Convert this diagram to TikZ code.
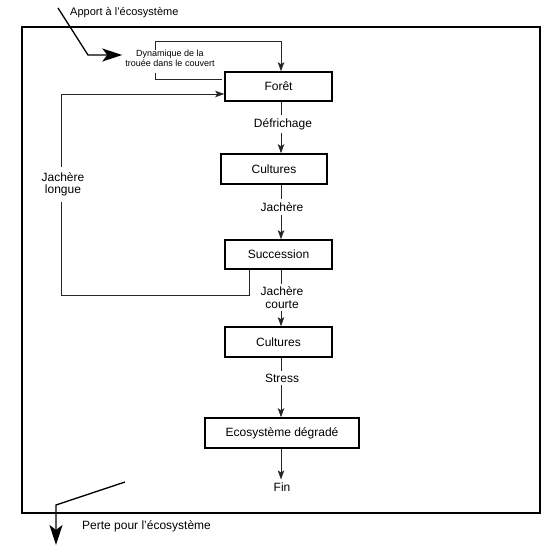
\documentclass[tikz,border=0pt]{standalone}
\usepackage{fontspec}
\setmainfont{Liberation Sans}
\usetikzlibrary{arrows.meta}
\begin{document}
\begin{tikzpicture}[x=1bp,y=-1bp,
  box/.style={draw, line width=1.6bp, minimum height=29bp, inner sep=0pt, font=\fontsize{12bp}{14bp}\selectfont},
  lbl/.style={font=\fontsize{12bp}{12.5bp}\selectfont, align=center, inner sep=3bp},
  thinln/.style={line width=0.8bp, black!85},
  arr/.style={thinln, -{Stealth[length=9bp,width=6.5bp,inset=2bp]}},
  bigarr/.style={line width=1.3bp, -{Stealth[length=20bp,width=13bp,inset=5bp]}}
]
\useasboundingbox (0,0) rectangle (550,551);
\draw[line width=2bp] (22,27) rectangle (540,513);

% main boxes
\node[box, minimum width=107bp] (foret) at (278.5,86.5) {Forêt};
\node[box, minimum width=106bp, minimum height=30bp] (cult1) at (274,169) {Cultures};
\node[box, minimum width=107bp] (succ) at (278.5,254.5) {Succession};
\node[box, minimum width=107bp, minimum height=30bp] (cult2) at (278.5,342) {Cultures};
\node[box, minimum width=154bp, minimum height=30bp] (eco) at (282,433) {Ecosystème dégradé};

% labels on the main column
\coordinate (col) at (281,0);
\node[lbl] (defr) at (283,124) {Défrichage};
\node[lbl] (jach) at (282,207) {Jachère};
\node[lbl] (jcourte) at (282,297.5) {Jachère\\courte};
\node[lbl] (stress) at (282,378) {Stress};
\node[lbl] (fin) at (282,487) {Fin};

\draw[thinln] (foret.south -| col) -- (defr.north -| col);
\draw[arr] (defr.south -| col) -- (cult1.north -| col);
\draw[thinln] (cult1.south -| col) -- (jach.north -| col);
\draw[arr] (jach.south -| col) -- (succ.north -| col);
\draw[thinln] (succ.south -| col) -- (jcourte.north -| col);
\draw[arr] (jcourte.south -| col) -- (cult2.north -| col);
\draw[thinln] (cult2.south -| col) -- (stress.north -| col);
\draw[arr] (stress.south -| col) -- (eco.north -| col);
\draw[arr] (eco.south -| col) -- (fin.north -| col);

% gap dynamics loop
\node[font=\fontsize{9bp}{10bp}\selectfont, align=center, inner sep=1bp] (trouee) at (170,58) {Dynamique de la\\trouée dans le couvert};
\coordinate (gapA) at (155,50);
\coordinate (gtop) at (155,41);
\coordinate (gapB) at (155,73);
\coordinate (gapC) at (222,79);
\draw[arr] (gapA) -- (gtop) -| (foret.north -| col);
\draw[thinln] (gapB) |- (gapC);

% long fallow loop
\node[lbl, inner sep=5bp] (jlong) at (63,184.5) {Jachère\\longue};
\coordinate (jlb) at (249,295);
\coordinate (jlbot) at (61,295);
\coordinate (jltop) at (61,94);
\draw[thinln] (succ.south -| jlb) -- (jlb) -- (jlbot) -- (jlbot |- jlong.south);
\draw[arr] (jltop |- jlong.north) -- (jltop) -- (foret.west |- jltop);

% input
\node[font=\fontsize{11bp}{12bp}\selectfont, anchor=west, inner sep=0pt] (apport) at (70,13) {Apport à l'écosystème};
\coordinate (ap0) at (58,8);
\coordinate (ap1) at (88,55);
\draw[bigarr] (ap0) -- (ap1) -- ([xshift=-2bp]trouee.west |- ap1);

% loss
\node[font=\fontsize{12bp}{13bp}\selectfont, anchor=west, inner sep=0pt] (perte) at (82,526) {Perte pour l'écosystème};
\coordinate (pe0) at (125,482);
\coordinate (pe1) at (56,505);
\coordinate (pe2) at (56,545);
\draw[bigarr] (pe0) -- (pe1) -- (pe2);
\end{tikzpicture}
\end{document}
